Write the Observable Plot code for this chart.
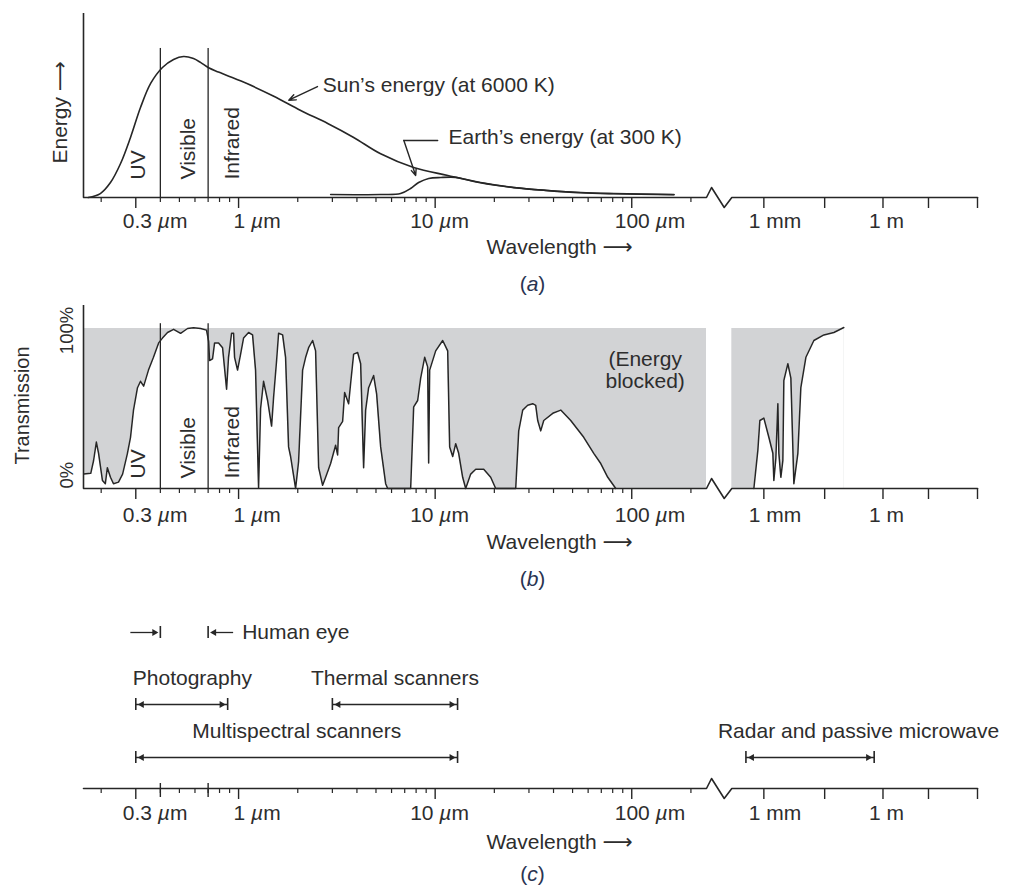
<!DOCTYPE html>
<html><head><meta charset="utf-8">
<script src="https://cdn.jsdelivr.net/npm/d3@7"></script>
<script src="https://cdn.jsdelivr.net/npm/@observablehq/plot@0.6"></script>
<style>
html,body{margin:0;padding:0;background:#fff;overflow:hidden}
#chart svg{display:block}
</style></head><body><div id="chart"></div>
<script>
// ================= DATA (wavelengths in µm) =================
const sunEnergy = [
  {w:0.172,e:0},{w:0.198,e:0.028},{w:0.223,e:0.106},{w:0.251,e:0.241},{w:0.282,e:0.426},
  {w:0.317,e:0.638},{w:0.357,e:0.809},{w:0.410,e:0.922},{w:0.467,e:0.979},{w:0.525,e:1.0},
  {w:0.590,e:0.985},{w:0.64,e:0.958},{w:0.704,e:0.92},{w:0.79,e:0.89},{w:0.879,e:0.864},
  {w:1.11,e:0.806},{w:1.51,e:0.718},
  {w:2.07,e:0.617},{w:2.84,e:0.525},{w:3.85,e:0.426},{w:5.28,e:0.31},{w:7.77,e:0.213},
  {w:11.6,e:0.156},{w:17.0,e:0.106},{w:25.1,e:0.071},{w:37.4,e:0.05},{w:55,e:0.035},
  {w:81,e:0.028},{w:164,e:0.021}
];
const earthEnergy = [
  {w:2.94,e:0.021},{w:5.28,e:0.021},{w:6.67,e:0.028},{w:7.5,e:0.064},{w:8.24,e:0.106},
  {w:9.27,e:0.135},{w:10.7,e:0.142},{w:12.7,e:0.143},{w:14.3,e:0.128},{w:17.0,e:0.104},
  {w:25.1,e:0.07},{w:37.4,e:0.049},{w:55,e:0.034},{w:81,e:0.027},{w:164,e:0.02}
];
const transmissionOptical = [
  {w:0.163,t:9},{w:0.177,t:9.5},{w:0.183,t:17.5},{w:0.189,t:29},{w:0.194,t:22},{w:0.203,t:5},
  {w:0.210,t:3},{w:0.215,t:13},{w:0.223,t:7},{w:0.231,t:3},{w:0.245,t:4},{w:0.257,t:9},
  {w:0.272,t:22},{w:0.282,t:32},{w:0.292,t:49},{w:0.306,t:63},{w:0.317,t:67},{w:0.329,t:64},
  {w:0.348,t:74},{w:0.369,t:82},{w:0.392,t:91},{w:0.410,t:94},{w:0.435,t:97.5},{w:0.467,t:99.5},
  {w:0.507,t:97},{w:0.550,t:100},{w:0.590,t:100.5},{w:0.641,t:100},{w:0.687,t:99},{w:0.704,t:92},
  {w:0.712,t:80},{w:0.737,t:81},{w:0.755,t:91},{w:0.791,t:91},{w:0.829,t:88},{w:0.869,t:62},
  {w:0.889,t:82},{w:0.921,t:97},{w:0.943,t:97},{w:0.954,t:82},{w:0.988,t:74},{w:1.024,t:84},
  {w:1.060,t:94},{w:1.124,t:97.5},{w:1.178,t:96},{w:1.220,t:74},{w:1.264,t:0.5},{w:1.294,t:50},
  {w:1.340,t:67},{w:1.405,t:55},{w:1.472,t:39},{w:1.507,t:57},{w:1.561,t:80},{w:1.598,t:97},
  {w:1.675,t:96},{w:1.734,t:82},{w:1.796,t:26},{w:1.839,t:20},{w:1.905,t:8},{w:1.950,t:0},
  {w:2.020,t:17},{w:2.117,t:74},{w:2.193,t:82},{w:2.271,t:88},{w:2.380,t:92.5},{w:2.465,t:86},
  {w:2.554,t:13},{w:2.676,t:2},{w:2.772,t:7},{w:2.939,t:15.6},{w:3.116,t:27},{w:3.190,t:21},
  {w:3.228,t:38},{w:3.383,t:42},{w:3.463,t:60},{w:3.629,t:53},{w:3.715,t:65.6},{w:3.848,t:84},
  {w:4.033,t:85},{w:4.178,t:78},{w:4.326,t:13},{w:4.429,t:49},{w:4.587,t:63},{w:4.864,t:70.6},
  {w:5.039,t:59},{w:5.281,t:26},{w:5.600,t:3},{w:5.733,t:0},{w:7.505,t:0},{w:7.774,t:51},
  {w:8.146,t:55},{w:8.438,t:69},{w:8.842,t:82},{w:9.158,t:76},{w:9.266,t:16},{w:9.376,t:74},
  {w:10.06,t:86},{w:10.92,t:92.5},{w:11.58,t:86},{w:11.85,t:26},{w:12.28,t:20},{w:12.72,t:28},
  {w:13.17,t:22},{w:13.80,t:7},{w:14.30,t:0},{w:15.16,t:9},{w:16.08,t:12},{w:17.66,t:12},
  {w:19.16,t:7},{w:20.32,t:0},{w:25.69,t:0},{w:26.61,t:36},{w:27.88,t:49},{w:29.56,t:52},
  {w:31.34,t:53},{w:32.47,t:52},{w:33.24,t:42.5},{w:34.43,t:36},{w:35.67,t:42.5},{w:39.63,t:47},
  {w:43.53,t:49},{w:48.93,t:42.5},{w:56.98,t:32},{w:64.08,t:22},{w:69.55,t:15.6},{w:75.50,t:7},
  {w:82.93,t:0}
];
const transmissionMicrowave = [
  {w:641,t:0},{w:766,t:24},{w:837,t:42.5},{w:1000,t:44},{w:1336,t:32},{w:1686,t:22},
  {w:1786,t:5},{w:2006,t:19},{w:2253,t:53},{w:2386,t:22},{w:2680,t:7},{w:3010,t:17.5},
  {w:3188,t:67.5},{w:4022,t:78},{w:4789,t:69},{w:5699,t:3},{w:7185,t:22},{w:8540,t:63},
  {w:11440,t:82},{w:18170,t:92.5},{w:32440,t:96},{w:57900,t:97.5},{w:103400,t:100.6}
];
const blockedBands = [{from:0.1626, to:240, side:"optical"}, {from:240, to:103400, side:"microwave"}];
const visibleBounds = [0.4, 0.7];
const regionLabels = [{name:"UV", w:0.31}, {name:"Visible", w:0.553}, {name:"Infrared", w:0.927}];
const minorTicks = [0.2,0.4,0.5,0.6,0.7,0.8,0.9,2,3,4,5,6,7,8,9,20,30,40,50,60,70,80,90,200];
const majorTicks = [
  {w:0.3,label:"0.3 µm"},{w:1,label:"1 µm"},{w:10,label:"10 µm"},
  {w:100,label:"100 µm"},{w:1e3,label:"1 mm"},{w:1e6,label:"1 m"}
];
const plainTicks = [3.4e4, 1.4e7, 2.4e8];
const sensors = [
  {name:"Photography", lo:0.3, hi:0.88, row:"upper"},
  {name:"Thermal scanners", lo:3, hi:13, row:"upper"},
  {name:"Multispectral scanners", lo:0.3, hi:13, row:"lower"},
  {name:"Radar and passive microwave", lo:450, hi:6e5, row:"lower"}
];
const humanEye = {name:"Human eye", lo:0.4, hi:0.7};
const sunNote = {text:"Sun’s energy (at 6000 K)", w:2.68, e:0.794, tail:{w:2.52,e:0.787}, tip:{w:1.80,e:0.69}};
const earthNote = {text:"Earth’s energy (at 300 K)", w:11.7, e:0.426,
  leader:[{w:10.3,e:0.404},{w:6.93,e:0.404}], tip:{w:7.96,e:0.156}};
const blockedNote = {text:"(Energy\nblocked)", w:117, t:74};

// ================= STYLE / BROKEN AXIS =================
const ink = "#262626", textInk = "#2d2d2d", gray = "#d2d3d5";
const FONT = "'Liberation Sans', Arial, Helvetica, 'DejaVu Sans', sans-serif";
const FS = 21;
const WIDTH = 1019, ML = 83, MR = 42;
const W_MIN = 0.1626, W_BREAK = 240, W_MAX = 2.4e8;
const GAP = 0.1288, K_SUBMM = 0.263, K_MM = 0.202;
const U_R0 = Math.log10(W_BREAK) + GAP;
const U_MM = U_R0 + K_SUBMM * Math.log10(1000 / W_BREAK);
function posR(w){ return w < 1000 ? U_R0 + K_SUBMM*Math.log10(w/W_BREAK) : U_MM + K_MM*Math.log10(w/1000); }
function pos(w){ return w <= W_BREAK ? Math.log10(w) : posR(w); }
const X_DOMAIN = [pos(W_MIN), posR(W_MAX)];
const PX = (X_DOMAIN[1]-X_DOMAIN[0])/(WIDTH-ML-MR);
const tickLabelDx = {"0.3 µm":-13, "1 µm":-5, "10 µm":-25, "100 µm":-17, "1 mm":-15, "1 m":-14};
const txt = {fill:textInk, fontSize:FS};

function wavelengthAxis(ypx, labelDy, wlDy, caption, capDy){
  const uL = pos(W_BREAK), uR = posR(W_BREAK), g = uR - uL;
  const line = [[X_DOMAIN[0],0],[uL,0],[uL+0.2*g,10*ypx],[uL+0.7*g,-10*ypx],[uR,0],[X_DOMAIN[1],0]];
  return [
    Plot.line(line, {x:d=>d[0], y:d=>d[1], stroke:ink, strokeWidth:1.6}),
    Plot.axisX(minorTicks.map(pos), {tickSize:5, fill:"none", stroke:ink, strokeWidth:1.2}),
    Plot.axisX([...majorTicks.map(t=>pos(t.w)), ...plainTicks.map(pos)], {tickSize:11, fill:"none", stroke:ink, strokeWidth:1.4}),
    ...majorTicks.map(t => Plot.text([t], {x:d=>pos(d.w), y:0, text:"label", textAnchor:"start", dx:tickLabelDx[t.label], dy:labelDy, ...txt})),
    Plot.text(["Wavelength ⟶"], {text:d=>d, frameAnchor:"bottom-left", textAnchor:"start", dx:403, dy:wlDy, ...txt}),
    Plot.text([caption], {text:d=>d, frameAnchor:"bottom", textAnchor:"middle", dx:2, dy:capDy, fill:"#2a3452", fontSize:FS})
  ];
}
function italicize(svg){
  svg.querySelectorAll("text").forEach(t => {
    if (t.childElementCount) return;
    const s = t.textContent;
    const m = s.match(/^\(([abc])\)$/);
    if (m) t.innerHTML = `(<tspan font-style="italic">${m[1]}</tspan>)`;
    else if (s.includes("µ")) t.innerHTML = s.replace("µ", `<tspan font-style="italic">µ</tspan>`);
  });
  return svg;
}
const base = {width:WIDTH, marginLeft:ML, marginRight:MR, x:{domain:X_DOMAIN},
  style:{fontFamily:FONT, fontSize:FS+"px", background:"white", color:ink}};

// ================= PANEL A =================
const aPx = 1/141;
const panelA = Plot.plot({...base, height:300, marginTop:56, marginBottom:103,
  y:{domain:[0,1], axis:null},
  marks:[
    Plot.ruleX([W_MIN], {x:pos, y1:0, y2:184*aPx, stroke:ink, strokeWidth:1.6}),
    Plot.ruleX(visibleBounds, {x:pos, y1:0, y2:1.057, stroke:ink, strokeWidth:1.3}),
    Plot.line(sunEnergy, {x:d=>pos(d.w), y:"e", curve:"catmull-rom", stroke:ink, strokeWidth:1.6}),
    Plot.line(earthEnergy, {x:d=>pos(d.w), y:"e", curve:"catmull-rom", stroke:ink, strokeWidth:1.6}),
    ...wavelengthAxis(aPx, 24, 56, "(a)", 93),
    Plot.text(regionLabels, {x:d=>pos(d.w), y:0, dy:-18, text:"name", rotate:-90, textAnchor:"start", ...txt}),
    Plot.text(["Energy ⟶"], {text:d=>d, frameAnchor:"bottom-left", rotate:-90, textAnchor:"start", dx:-17, dy:-34, ...txt}),
    Plot.arrow([sunNote], {x1:d=>pos(d.tail.w), y1:d=>d.tail.e, x2:d=>pos(d.tip.w), y2:d=>d.tip.e, headLength:8, headAngle:45, stroke:ink, strokeWidth:1.4}),
    Plot.text([sunNote], {x:d=>pos(d.w), y:"e", text:"text", textAnchor:"start", ...txt}),
    Plot.line(earthNote.leader, {x:d=>pos(d.w), y:"e", stroke:ink, strokeWidth:1.4}),
    Plot.arrow([earthNote], {x1:d=>pos(d.leader[1].w), y1:d=>d.leader[1].e, x2:d=>pos(d.tip.w), y2:d=>d.tip.e, headLength:7, headAngle:45, stroke:ink, strokeWidth:1.4}),
    Plot.text([earthNote], {x:d=>pos(d.w), y:"e", text:"text", textAnchor:"start", ...txt})
  ]});

// ================= PANEL B =================
const bPx = 100/160;
const bandX1 = d => d.side === "optical" ? pos(d.from) : posR(d.from);
const bandX2 = d => d.side === "optical" ? pos(d.to) : posR(d.to);
const panelB = Plot.plot({...base, height:300, marginTop:28, marginBottom:112,
  y:{domain:[0,100], axis:null},
  marks:[
    Plot.rect(blockedBands, {x1:bandX1, x2:bandX2, y1:0, y2:100, fill:gray}),
    Plot.areaY(transmissionOptical, {x:d=>pos(d.w), y:"t", fill:"white"}),
    Plot.areaY(transmissionMicrowave, {x:d=>pos(d.w), y:"t", fill:"white"}),
    Plot.ruleX(visibleBounds, {x:pos, y1:0, y2:103, stroke:ink, strokeWidth:1.3}),
    Plot.line(transmissionOptical, {x:d=>pos(d.w), y:"t", stroke:ink, strokeWidth:1.5}),
    Plot.line(transmissionMicrowave, {x:d=>pos(d.w), y:"t", stroke:ink, strokeWidth:1.5}),
    Plot.ruleX([W_MIN], {x:pos, y1:0, y2:183*bPx, stroke:ink, strokeWidth:1.6}),
    ...wavelengthAxis(bPx, 27, 60, "(b)", 97),
    Plot.text(regionLabels, {x:d=>pos(d.w), y:0, dy:-10, text:"name", rotate:-90, textAnchor:"start", ...txt}),
    Plot.text([blockedNote], {x:d=>pos(d.w), y:"t", text:"text", lineHeight:1.05, ...txt}),
    Plot.text(["Transmission"], {text:d=>d, frameAnchor:"left", rotate:-90, textAnchor:"middle", dx:-61, dy:-3, fill:textInk, fontSize:20}),
    Plot.text([100], {y:d=>d, text:()=>"100%", frameAnchor:"left", rotate:-90, textAnchor:"middle", dx:-16, dy:2, fill:textInk, fontSize:18.5}),
    Plot.text([0], {y:d=>d, text:()=>"0%", frameAnchor:"left", rotate:-90, textAnchor:"start", dx:-16, fill:textInk, fontSize:18.5})
  ]});

// ================= PANEL C =================
const rowY = {eye:156, upper:84, lower:31}; // pixels above the axis
const ends = sensors.flatMap(d => [{w:d.lo,row:d.row},{w:d.hi,row:d.row}]);
const heads = sensors.flatMap(d => [{u:pos(d.lo)+6*PX,row:d.row,dir:-90},{u:pos(d.hi)-6*PX,row:d.row,dir:90}]);
const labelPlace = {"Photography":{a:"start",dx:-3}, "Radar and passive microwave":{a:"start",dx:-28}};
const eyeArrows = [
  {u1:pos(humanEye.lo)-30*PX, u2:pos(humanEye.lo)-4*PX, head:pos(humanEye.lo)-6*PX, dir:90},
  {u1:pos(humanEye.hi)+4*PX, u2:pos(humanEye.hi)+25*PX, head:pos(humanEye.hi)+6*PX, dir:-90}
];
const panelC = Plot.plot({...base, height:292, marginTop:88, marginBottom:104,
  y:{domain:[0,100], axis:null},
  marks:[
    Plot.link(sensors, {x1:d=>pos(d.lo), x2:d=>pos(d.hi), y1:d=>rowY[d.row], y2:d=>rowY[d.row], stroke:ink, strokeWidth:1.3}),
    Plot.ruleX(ends, {x:d=>pos(d.w), y1:d=>rowY[d.row]-6, y2:d=>rowY[d.row]+6, stroke:ink, strokeWidth:1.6}),
    Plot.dot(heads, {x:"u", y:d=>rowY[d.row], symbol:"triangle", r:2.6, rotate:"dir", fill:ink, stroke:"none"}),
    ...sensors.map(s => Plot.text([s], {
      x:d => labelPlace[d.name] ? pos(d.lo) : (pos(d.lo)+pos(d.hi))/2, y:d=>rowY[d.row], dy:-26,
      text:"name", textAnchor:labelPlace[s.name] ? labelPlace[s.name].a : "middle",
      dx:labelPlace[s.name] ? labelPlace[s.name].dx : 0, ...txt})),
    Plot.ruleX([humanEye.lo, humanEye.hi], {x:pos, y1:rowY.eye-6, y2:rowY.eye+6, stroke:ink, strokeWidth:1.6}),
    Plot.link(eyeArrows, {x1:"u1", x2:"u2", y1:rowY.eye, y2:rowY.eye, stroke:ink, strokeWidth:1.3}),
    Plot.dot(eyeArrows, {x:"head", y:rowY.eye, symbol:"triangle", r:2.6, rotate:"dir", fill:ink, stroke:"none"}),
    Plot.text([humanEye], {x:d=>pos(d.hi)+34*PX, y:rowY.eye, text:"name", textAnchor:"start", ...txt}),
    Plot.ruleX(visibleBounds, {x:pos, y1:-9, y2:5, stroke:ink, strokeWidth:1.4}),
    ...wavelengthAxis(1, 25, 60, "(c)", 92)
  ]});

const chart = document.getElementById("chart");
[panelA, panelB, panelC].forEach(p => chart.appendChild(italicize(p)));
</script></body></html>
